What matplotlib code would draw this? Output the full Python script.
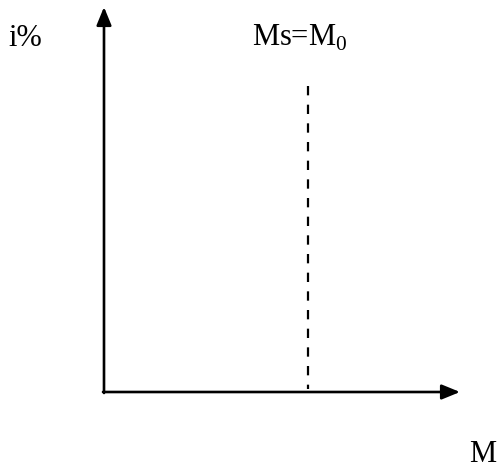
import matplotlib
matplotlib.use("Agg")
import matplotlib.pyplot as plt

# Diagram values (pixel-space layout of a schematic)
origin = (104, 392)
x_end = 460
y_end = 7
m0_x = 308
m0_top = 86
labels = {"y": "i%", "x": "M", "title": "Ms=M$_0$"}

fig = plt.figure(figsize=(4.98, 4.69), dpi=100)
ax = fig.add_axes([0, 0, 1, 1])
ax.set_xlim(0, 498)
ax.set_ylim(469, 0)
ax.axis("off")

lw = 1.9
ax.annotate("", xy=(x_end, origin[1]), xytext=(origin[0] - 1, origin[1]),
            arrowprops=dict(arrowstyle="-|>,head_length=1.1,head_width=0.45",
                            lw=lw, color="black", shrinkA=0, shrinkB=0))
ax.annotate("", xy=(origin[0], y_end), xytext=(origin[0], origin[1] + 1),
            arrowprops=dict(arrowstyle="-|>,head_length=1.1,head_width=0.45",
                            lw=lw, color="black", shrinkA=0, shrinkB=0))
ax.plot([m0_x, m0_x], [m0_top, origin[1] - 3], color="black", lw=1.6,
        linestyle=(0, (4.2, 4.2)))

serif = ["Liberation Serif", "DejaVu Serif"]
plt.rcParams["mathtext.fontset"] = "custom"
plt.rcParams["mathtext.rm"] = "Liberation Serif"
fs = 22
ax.text(8, 38, labels["y"], fontsize=fs, family=serif, va="center", ha="left")
ax.text(252, 38, labels["title"], fontsize=fs, family=serif, va="center", ha="left")
ax.text(496, 455, labels["x"], fontsize=fs, family=serif, va="center", ha="right")

fig.savefig("out.png", dpi=100)
